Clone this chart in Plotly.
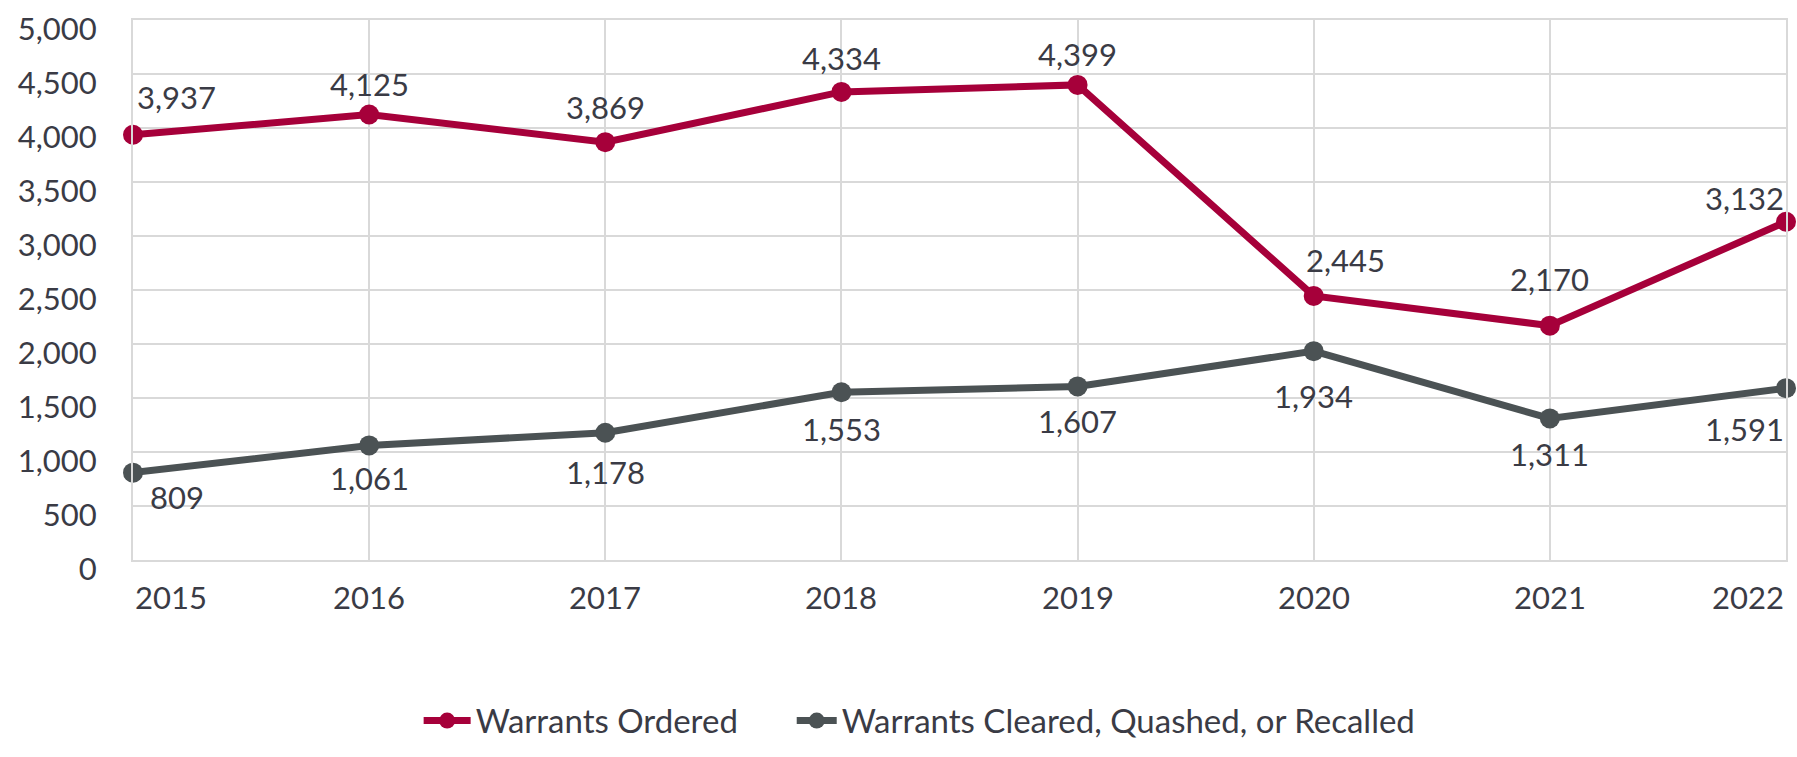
import plotly.graph_objects as go

years = [2015, 2016, 2017, 2018, 2019, 2020, 2021, 2022]
ordered = [3937, 4125, 3869, 4334, 4399, 2445, 2170, 3132]
cleared = [809, 1061, 1178, 1553, 1607, 1934, 1311, 1591]
year_labels = [str(y) for y in years]
series_names = ["Warrants Ordered", "Warrants Cleared, Quashed, or Recalled"]

# label placement (pixels, styling only)
ordered_label_dy = [38, 31, 35, 34, 31, 36, 47, 24]     # above the point
cleared_label_dy = [24, 33, 39, 37, 35, 45, 36, 41]     # below the point
ordered_label_dx = [2, 0, 0, 0, 0, 32, 0, 0]
cleared_label_dx = [15, 0, 0, 0, 0, 0, 0, 0]

RED = "#A6003A"
GRAY = "#4B5254"
TXT = "#3A3B45"
GRID = "#D9D9D9"
FONT = "Lato, Open Sans, sans-serif"
FS = 31

fig = go.Figure()
fig.add_trace(go.Scatter(x=years, y=ordered, name=series_names[0], mode="lines+markers",
    line=dict(color=RED, width=7), marker=dict(color=RED, size=20), cliponaxis=False,
    legend="legend", showlegend=True))
fig.add_trace(go.Scatter(x=years, y=cleared, name=series_names[1], mode="lines+markers",
    line=dict(color=GRAY, width=7), marker=dict(color=GRAY, size=20), cliponaxis=False,
    legend="legend2", showlegend=True))

def anchor_for(i):
    return "left" if i == 0 else ("right" if i == len(years) - 1 else "center")

for vals, dys, dxs, sign in ((ordered, ordered_label_dy, ordered_label_dx, 1),
                             (cleared, cleared_label_dy, cleared_label_dx, -1)):
    for i, (yr, v) in enumerate(zip(years, vals)):
        fig.add_annotation(x=yr, y=v, text=f"{v:,}", showarrow=False,
                           xanchor=anchor_for(i), yanchor="middle",
                           yshift=sign * dys[i], xshift=dxs[i],
                           font=dict(family=FONT, size=FS, color=TXT))

for i, (yr, lab) in enumerate(zip(years, year_labels)):
    fig.add_annotation(x=yr, y=0, xref="x", yref="paper", text=lab, showarrow=False,
                       xanchor=anchor_for(i), yanchor="middle", yshift=-37,
                       font=dict(family=FONT, size=FS, color=TXT))

fig.update_xaxes(range=[2015, 2022], tickvals=years, showticklabels=False,
                 showgrid=True, gridcolor=GRID, gridwidth=2, zeroline=False,
                 showline=True, mirror=True, linecolor=GRID, linewidth=2)
fig.update_yaxes(range=[0, 5000], dtick=500, tickformat=",",
                 showgrid=True, gridcolor=GRID, gridwidth=2, zeroline=False,
                 showline=True, mirror=True, linecolor=GRID, linewidth=2,
                 ticklabelstandoff=28, ticklabelshift=9, ticklabeloverflow="allow",
                 tickfont=dict(family=FONT, size=FS, color=TXT))

legend_font = dict(family=FONT, size=33, color=TXT)
fig.update_layout(
    width=1797, height=757,
    margin=dict(l=133, r=9, t=13, b=186),
    plot_bgcolor="white", paper_bgcolor="white",
    font=dict(family=FONT, size=FS, color=TXT),
    showlegend=True,
    legend=dict(orientation="h", x=0.1728, xanchor="left", y=-0.2975, yanchor="middle",
                font=legend_font, itemwidth=47),
    legend2=dict(orientation="h", x=0.3985, xanchor="left", y=-0.2975, yanchor="middle",
                 font=legend_font, itemwidth=40),
)
fig.write_html("out.html", config={"displayModeBar": False},
               post_script="document.body.style.margin='0';document.body.style.overflow='hidden';")
